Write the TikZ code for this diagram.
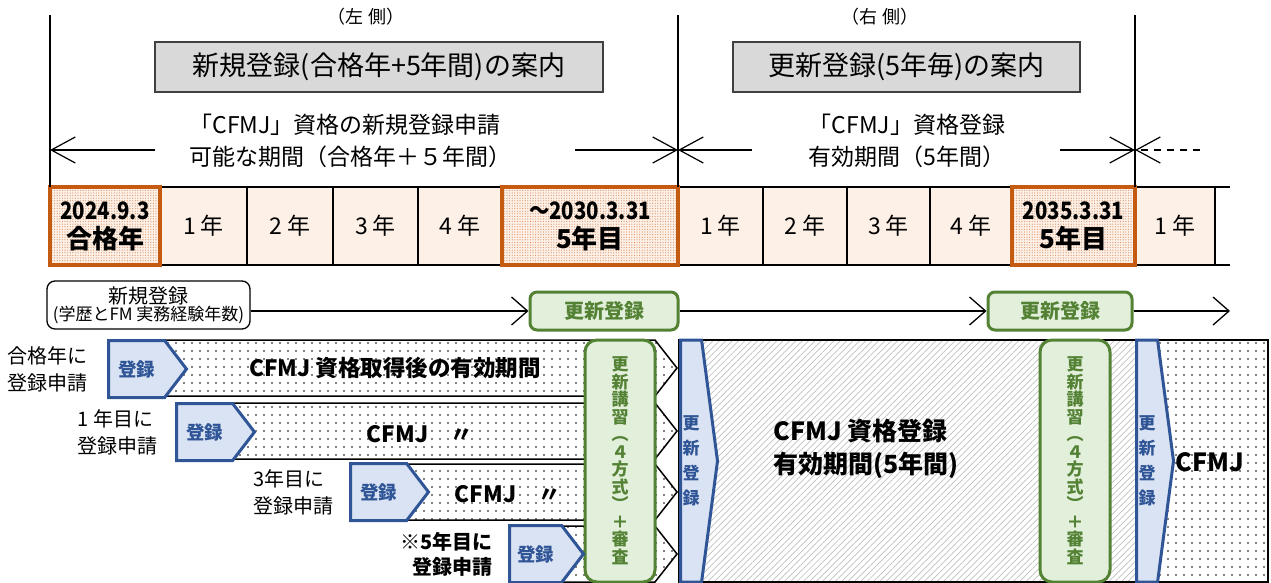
\documentclass[tikz,border=0pt]{standalone}
\usepackage{fontspec}
\setmainfont{Noto Sans CJK JP}
\usetikzlibrary{positioning,shapes.symbols,patterns.meta,arrows.meta}

\definecolor{passorange}{HTML}{C55A11}
\definecolor{cellfill}{HTML}{FDF0E7}
\definecolor{dotorange}{HTML}{D9956A}
\definecolor{renewgreen}{HTML}{548235}
\definecolor{renewfill}{HTML}{E2EFDA}
\definecolor{regblue}{HTML}{2F5597}
\definecolor{regfill}{HTML}{DAE3F3}
\definecolor{guidegray}{HTML}{D9D9D9}

\newcommand{\narrow}[1]{\scalebox{0.85}[1]{#1}}

\tikzset{
  yearcell/.style={draw, line width=1.3pt, fill=cellfill, outer sep=0pt, inner sep=0pt,
    minimum height=78pt, font=\fontsize{23pt}{27pt}\selectfont},
  passcell/.style={draw=passorange, line width=3.5pt, outer sep=0pt, inner sep=0pt,
    minimum height=78pt, align=center, font=\bfseries\fontsize{24pt}{29pt}\selectfont,
    preaction={fill=cellfill}, pattern={Dots[distance=2.6pt,radius=0.6pt]}, pattern color=dotorange},
  guidebox/.style={draw=black!75, line width=1.5pt, fill=guidegray, minimum height=50pt,
    font=\fontsize{27pt}{30pt}\selectfont},
  period/.style={font=\fontsize{23pt}{32pt}\selectfont},
  side/.style={font=\fontsize{18pt}{20pt}\selectfont},
  dimline/.style={line width=1.2pt, -{Straight Barb[length=24pt,width=26pt]}},
  flow/.style={line width=1.3pt, -{Straight Barb[length=16pt,width=28pt]}},
  newbox/.style={draw, line width=1.3pt, rounded corners=8pt, fill=white, minimum width=203pt,
    minimum height=48pt, align=center, inner sep=0pt},
  renew/.style={draw=renewgreen, line width=3pt, fill=renewfill, rounded corners=7pt,
    minimum height=38pt, text=renewgreen, font=\bfseries\fontsize{20pt}{22pt}\selectfont},
  lecture/.style={renew, rounded corners=12pt, minimum width=70pt, minimum height=242pt,
    align=center, inner sep=0pt, font=\bfseries\fontsize{17pt}{17.5pt}\selectfont},
  regsig/.style={signal, signal to=east, signal pointer angle=105, draw=regblue, line width=3pt,
    fill=regfill, text=regblue, inner sep=0pt, minimum width=78pt, minimum height=57pt,
    font=\bfseries\fontsize{18.5pt}{20pt}\selectfont},
  renewsig/.style={regsig, signal pointer angle=165, minimum width=37pt, minimum height=242pt,
    align=center, font=\bfseries\fontsize{17pt}{25pt}\selectfont},
  apply/.style={align=left, font=\fontsize{20pt}{27pt}\selectfont},
  bartext/.style={font=\bfseries\fontsize{22.5pt}{25pt}\selectfont},
  dotbar/.style={draw, line width=1.5pt, pattern={Dots[distance=8pt,radius=0.9pt]}},
  hatchbar/.style={pattern={Lines[angle=45,distance=4.5pt,line width=0.7pt]}, pattern color=black!25}
}

\begin{document}
\begin{tikzpicture}[x=1pt, y=-1pt]
  \useasboundingbox (0,0) rectangle (1271,583);

  % headings
  \node [side] (leftside) at (366,17) {（左 側）};
  \node [side] (rightside) at (880,17) {（右 側）};
  \node [guidebox, minimum width=448pt] (guideL) at (379,67) {新規登録(合格年+5年間)の案内};
  \node [guidebox, minimum width=347pt] (guideR) at (906.5,67) {更新登録(5年毎)の案内};
  \node [period, align=left, anchor=west] (periodL) at (186,141) {「CFMJ」資格の新規登録申請\\可能な期間（合格年＋５年間）};
  \node [period, align=center] (periodR) at (907,141) {「CFMJ」資格登録\\有効期間（5年間）};

  % year row
  \node [yearcell, minimum width=87pt, anchor=west] (y1) at (160,226) {1 年};
  \node [yearcell, minimum width=86pt] (y2) [right=0pt of y1] {2 年};
  \node [yearcell, minimum width=85pt] (y3) [right=0pt of y2] {3 年};
  \node [yearcell, minimum width=84pt] (y4) [right=0pt of y3] {4 年};
  \node [yearcell, minimum width=85pt, anchor=west] (y5) at (678,226) {1 年};
  \node [yearcell, minimum width=84pt] (y6) [right=0pt of y5] {2 年};
  \node [yearcell, minimum width=83pt] (y7) [right=0pt of y6] {3 年};
  \node [yearcell, minimum width=82pt] (y8) [right=0pt of y7] {4 年};
  \node [yearcell, minimum width=80pt, anchor=west] (y9) at (1135,226) {1 年};
  \draw [line width=1.3pt] (y9.north east) -- ++(15,0) (y9.south east) -- ++(15,0);
  \node [passcell, minimum width=110pt] (pass) [left=0pt of y1] {\narrow{2024.9.3}\\{\fontsize{26pt}{29pt}\selectfont 合格年}};
  \node [passcell, minimum width=176pt] (fifth1) [right=0pt of y4] {\narrow{～2030.3.31}\\{\fontsize{26pt}{29pt}\selectfont 5年目}};
  \node [passcell, minimum width=123pt] (fifth2) [right=0pt of y8] {\narrow{2035.3.31}\\{\fontsize{26pt}{29pt}\selectfont 5年目}};

  % period marks
  \draw [line width=1.2pt] (pass.north west) -- ++(0,-172);
  \draw [line width=1.2pt] (y5.north west) -- ++(0,-172);
  \draw [line width=1.2pt] (y9.north west) -- ++(0,-172);
  \coordinate (tipL) at (50,150);
  \coordinate (tipM) at (678,150);
  \coordinate (tipR) at (1135,150);
  \coordinate (tailL1) at (155,150);
  \coordinate (tailL2) at (575,150);
  \coordinate (tailR1) at (752,150);
  \coordinate (tailR2) at (1060,150);
  \coordinate (tailR3) at (1200,150);
  \draw [dimline] (tailL1) -- (tipL);
  \draw [dimline] (tailL2) -- (tipM);
  \draw [dimline] (tailR1) -- (tipM);
  \draw [dimline] (tailR2) -- (tipR);
  \draw [dimline, dash pattern=on 7pt off 6pt] (tailR3) -- (tipR);

  % registration row
  \node [newbox] (newreg) at (148.5,305) {{\fontsize{20pt}{21pt}\selectfont 新規登録}\\{\fontsize{17pt}{19pt}\selectfont (学歴とFM 実務経験年数)}};
  \node [renew, minimum width=148pt] (renew1) at (604,311) {更新登録};
  \node [renew, minimum width=144pt] (renew2) at (1060,311) {更新登録};
  \coordinate (renewend) at (1230,311);
  \path [flow]
    (newreg.east |- renew1.west) edge (renew1.west)
    (renew1.east) edge (renew2.west)
    (renew2.east) edge (renewend);

  % validity bars
  \path [dotbar] (160,340) -- (655,340) -- (677,368) -- (655,396) -- (160,396) -- cycle;
  \path [dotbar] (230,403) -- (655,403) -- (677,431) -- (655,459) -- (230,459) -- cycle;
  \path [dotbar] (405,464) -- (655,464) -- (677,492) -- (655,520) -- (405,520) -- cycle;
  \path [dotbar] (560,526) -- (655,526) -- (677,554) -- (655,582) -- (560,582) -- cycle;
  \path [hatchbar] (680,340) rectangle (1135,582);
  \path [pattern={Dots[distance=8pt,radius=0.9pt]}] (1135,340) rectangle (1268,582);
  \draw [line width=1.5pt] (679,340) rectangle (1268,582);

  \node [lecture] (lecture1) at (620,461) {更\\新\\講\\習\\︵\\４\\方\\式\\︶\\＋\\審\\査};
  \node [lecture] (lecture2) at (1075,461) {更\\新\\講\\習\\︵\\４\\方\\式\\︶\\＋\\審\\査};
  \node [renewsig, anchor=west] (update1) at (679,461) {更\\新\\登\\録};
  \node [renewsig, anchor=west] (update2) at (1135,461) {更\\新\\登\\録};

  \node [regsig, anchor=west] (reg1) at (107,369) {登録};
  \node [regsig, anchor=west] (reg2) at (175,432) {登録};
  \node [regsig, anchor=west] (reg3) at (349,492) {登録};
  \node [regsig, minimum width=74pt, anchor=west] (reg4) at (508,554) {登録};

  \node [apply] (apply1) [left=16pt of reg1] {合格年に\\登録申請};
  \node [apply] (apply2) [left=14pt of reg2] {1 年目に\\登録申請};
  \node [apply] (apply3) [left=12pt of reg3] {3年目に\\登録申請};
  \node [apply, align=right, font=\bfseries\fontsize{20pt}{25pt}\selectfont] (apply4) [left=12pt of reg4] {※5年目に\\登録申請};

  \node [bartext] (valid1) at (395,368) {CFMJ 資格取得後の有効期間};
  \node [bartext] (valid2) at (420,434) {CFMJ\quad 〃};
  \node [bartext] (valid3) at (508,494) {CFMJ\quad 〃};
  \node [bartext, align=left, anchor=west, font=\bfseries\fontsize{25pt}{33pt}\selectfont] (validR) at (770,449) {CFMJ 資格登録\\有効期間(5年間)};
  \node [bartext, font=\bfseries\fontsize{25pt}{27pt}\selectfont] (validNext) at (1210,462) {CFMJ};
\end{tikzpicture}
\end{document}
